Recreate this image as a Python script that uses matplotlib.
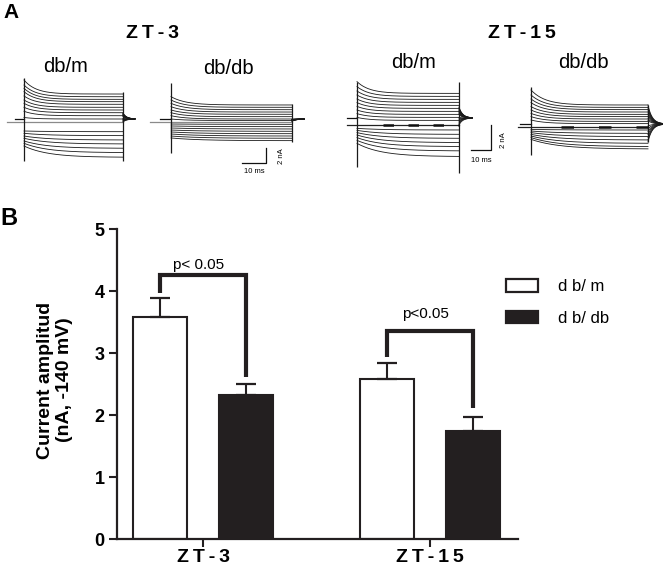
import numpy as np
import matplotlib
matplotlib.use('Agg')
import matplotlib.pyplot as plt
from matplotlib.patches import Patch

plt.rcParams['font.family'] = ['Liberation Sans', 'DejaVu Sans']

W, H = 663, 570
TS = '\u2009'

# ---------------- Panel B data ----------------
groups = ['ZT-3', 'ZT-15']
group_labels = [TS.join('ZT-3'), TS.join('ZT-15')]
legend_labels = ['d b/ m', 'd b/ db']
mean_dbm = [3.58, 2.58]
sem_dbm = [0.31, 0.26]
mean_dbdb = [2.32, 1.74]
sem_dbdb = [0.18, 0.23]
yticks = [0, 1, 2, 3, 4, 5]
p_labels = ['p< 0.05', 'p<0.05']
p_label_y = [4.42, 3.63]
bracket_top = [4.26, 3.35]
bracket_left_bottom = [3.96, 2.93]
bracket_right_bottom = [2.61, 2.11]

# ---------------- Panel A data (nA, relative to zero line) ----------------
pulse_ms = 50
zt3_dbm_I0 = [5.6, 4.93, 4.49, 4.04, 3.47, 2.93, 2.49, 1.96, 1.43, 0.6,
              -1.2, -1.51, -1.87, -2.17, -2.53, -2.84, -3.2]
zt3_dbm_Iss = [3.73, 3.37, 3.02, 2.71, 2.36, 1.96, 1.6, 1.24, 0.84, 0.4,
               -1.29, -1.82, -2.4, -2.93, -3.51, -4.09, -4.71]
zt3_dbdb_I0 = [3.38, 2.93, 2.49, 2.04, 1.6, 1.24, 0.84, 0.4,
               -0.27, -0.53, -0.8, -1.07, -1.33, -1.6, -1.87, -2.13]
zt3_dbdb_Iss = [2.27, 1.96, 1.64, 1.33, 1.03, 0.71, 0.4, 0.2,
                -0.31, -0.62, -0.93, -1.24, -1.56, -1.87, -2.17, -2.49]
zt15_dbm_I0 = [3.47, 3.07, 2.72, 2.4, 2.08, 1.79, 1.49, 1.2, 0.91, 0.61,
               -0.27, -0.43, -0.61, -0.8, -1.01, -1.23, -1.47]
zt15_dbm_Iss = [2.53, 2.29, 2.05, 1.81, 1.57, 1.33, 1.09, 0.85, 0.61, 0.37,
                -0.4, -0.75, -1.07, -1.41, -1.73, -2.08, -2.53]
zt15_dbdb_I0 = [2.96, 2.56, 2.24, 1.95, 1.63, 1.36, 1.09, 0.83, 0.56,
                -0.19, -0.32, -0.45, -0.59, -0.72, -0.85, -0.99]
zt15_dbdb_Iss = [1.76, 1.57, 1.39, 1.2, 1.01, 0.83, 0.64, 0.45, 0.27,
                 -0.24, -0.51, -0.77, -1.04, -1.31, -1.57, -1.76]
holding_nA = [0.4, 0.4, 0.56, 0.24]
on_transient = [(5.87, -5.2), (5.2, -4.13), (3.44, -3.36), (3.2, -2.24)]
off_transient = [(4.0, -5.2), (2.4, -2.67), (3.44, -3.84), (1.76, -1.2)]
tail_range = [(0.0, 1.2), (0.1, 0.4), (0.0, 1.44), (-1.2, 1.76)]
panel_titles = ['db/m', 'db/db', 'db/m', 'db/db']

fig = plt.figure(figsize=(W / 100, H / 100), dpi=100)


def fx(px):
    return px / W


def fy(py):
    return 1 - py / H


def trace_axes(x0, sx, y0, sy, xlim, ylim):
    a, b = xlim
    c, d = ylim
    left = x0 + a * sx
    right = x0 + b * sx
    top = y0 - d * sy
    bottom = y0 - c * sy
    ax = fig.add_axes([left / W, 1 - bottom / H, (right - left) / W, (bottom - top) / H])
    ax.set_xlim(a, b)
    ax.set_ylim(c, d)
    ax.axis('off')
    return ax


# layout of each trace panel: (x0 px, px/ms, y0 px, px/nA, xlim, ylim, ref start, hold start, tail length, ref colour)
layouts = [
    (24, 1.98, 122, 7.5, (-9, 57), (-6, 6.5), -8.6, -4.5, 6.0, '#8a8a8a'),
    (171, 2.42, 122, 7.5, (-9, 62), (-7.5, 6), -8.7, -4.5, 5.0, '#8a8a8a'),
    (357, 2.04, 125, 12.5, (-6, 76), (-4, 4), -4.9, -4.9, 6.4, '#222222'),
    (531, 2.34, 127, 12.5, (-6, 56.4), (-3, 3.5), -5.6, -4.7, 6.4, '#222222'),
]
datasets = [(zt3_dbm_I0, zt3_dbm_Iss), (zt3_dbdb_I0, zt3_dbdb_Iss),
            (zt15_dbm_I0, zt15_dbm_Iss), (zt15_dbdb_I0, zt15_dbdb_Iss)]

t_on = np.linspace(0, pulse_ms, 200)
trace_axes_list = []
for k, (lay, (I0, Iss)) in enumerate(zip(layouts, datasets)):
    x0, sx, y0, sy, xl, yl, ref0, hold0, tail_len, refc = lay
    ax = trace_axes(x0, sx, y0, sy, xl, yl)
    trace_axes_list.append(ax)
    hold = holding_nA[k]
    ax.plot([ref0, pulse_ms], [0, 0], color=refc, lw=0.9, zorder=1)
    ax.plot([hold0, 0], [hold, hold], color='#111111', lw=0.9)
    iss = np.array(Iss)
    lo, hi = tail_range[k]
    t_tail = np.linspace(pulse_ms, pulse_ms + tail_len, 40)
    for a0, ass in zip(I0, Iss):
        tau = 6.0 if ass > 0 else 12.0
        y = ass + (a0 - ass) * np.exp(-t_on / tau)
        ax.plot(t_on, y, color='#1a1a1a', lw=0.6)
        frac = (ass - iss.min()) / (iss.max() - iss.min())
        tail0 = lo + frac * (hi - lo)
        ytail = hold + (tail0 - hold) * np.exp(-(t_tail - pulse_ms) / 1.8)
        ax.plot(t_tail, ytail, color='#1a1a1a', lw=0.6)
    ax.vlines(0, on_transient[k][1], on_transient[k][0], color='#1a1a1a', lw=0.9)
    ax.vlines(pulse_ms, off_transient[k][1], off_transient[k][0], color='#1a1a1a', lw=0.9)
    if k >= 2:
        ax.plot([12.7, pulse_ms], [0, 0], color='#111111', lw=1.8,
                dashes=(4.2, 5.8) if k == 2 else (5, 10))

# scale bars
ax2 = trace_axes_list[1]
ax2.plot([29.3, 39.3, 39.3], [-5.47, -5.47, -3.47], color='#111111', lw=0.9, clip_on=False)
ax2.text(34.3, -6.6, '10 ms', fontsize=5.5, ha='center', va='center')
ax2.text(45.5, -4.5, '2 nA', fontsize=5.5, ha='center', va='center', rotation=90)
ax3 = trace_axes_list[2]
ax3.plot([55.7, 65.7, 65.7], [-2.0, -2.0, 0.0], color='#111111', lw=0.9, clip_on=False)
ax3.text(60.8, -2.8, '10 ms', fontsize=5.5, ha='center', va='center')
ax3.text(72.0, -1.2, '2 nA', fontsize=5.5, ha='center', va='center', rotation=90)

# panel A texts
fig.text(fx(3), fy(13), 'A', fontsize=15, fontweight='bold', ha='left', va='center')
fig.text(fx(152), fy(34), TS.join('ZT-3'), fontsize=14, fontweight='bold', ha='center', va='center')
fig.text(fx(522), fy(33), TS.join('ZT-15'), fontsize=14, fontweight='bold', ha='center', va='center')
for (px, py), title in zip([(66, 66), (228, 69), (414, 62), (583, 62)], panel_titles):
    fig.text(fx(px), fy(py), title, fontsize=14.5, ha='center', va='center')

# ---------------- Panel B ----------------
axB = fig.add_axes([fx(117), fy(539), (518 - 117) / W, (539 - 229) / H])
x = np.arange(len(groups))
off = 0.19
bw = 0.24
dark = '#231f20'
axB.bar(x - off, mean_dbm, bw, color='white', edgecolor=dark, lw=1.5, zorder=2)
axB.bar(x + off, mean_dbdb, bw, color=dark, edgecolor=dark, lw=1.5, zorder=2)
zeros = np.zeros(len(groups))
axB.errorbar(x - off, mean_dbm, yerr=[zeros, sem_dbm], fmt='none', ecolor=dark,
             elinewidth=1.5, capsize=7.5, capthick=1.6, zorder=3)
axB.errorbar(x + off, mean_dbdb, yerr=[zeros, sem_dbdb], fmt='none', ecolor=dark,
             elinewidth=1.5, capsize=7.5, capthick=1.6, zorder=3)
for i in range(len(groups)):
    xl_, xr_ = x[i] - off, x[i] + off
    axB.plot([xl_, xl_, xr_, xr_],
             [bracket_left_bottom[i], bracket_top[i], bracket_top[i], bracket_right_bottom[i]],
             color=dark, lw=3, solid_joinstyle='miter', solid_capstyle='butt', zorder=4)
    axB.text(x[i] - 0.02, p_label_y[i], p_labels[i], fontsize=11, ha='center', va='center')

axB.set_xlim(-0.379, 1.388)
axB.set_ylim(0, 5)
axB.set_yticks(yticks)
axB.set_yticklabels([str(v) for v in yticks], fontsize=13, fontweight='bold')
axB.set_xticks(x)
axB.set_xticklabels(group_labels, fontsize=14, fontweight='bold')
axB.tick_params(axis='both', length=6, width=1.5, color=dark, direction='out')
axB.tick_params(axis='y', pad=3)
axB.tick_params(axis='x', pad=1.5)
for s in ['top', 'right']:
    axB.spines[s].set_visible(False)
for s in ['left', 'bottom']:
    axB.spines[s].set_linewidth(1.6)
    axB.spines[s].set_color(dark)

handles = [Patch(facecolor='white', edgecolor=dark, lw=1.6),
           Patch(facecolor=dark, edgecolor=dark, lw=1.6)]
axB.legend(handles, legend_labels, loc='upper left', bbox_to_anchor=(0.97, 0.8387),
           frameon=False, fontsize=12, handlelength=1.92, handleheight=0.78,
           handletextpad=1.2, labelspacing=1.0, borderpad=0, borderaxespad=0)

fig.text(fx(55), fy(380), 'Current amplitud\n(nA, -140 mV)', fontsize=14, fontweight='bold',
         rotation=90, ha='center', va='center', multialignment='center', linespacing=1.2)
fig.text(fx(0), fy(218), 'B', fontsize=17, fontweight='bold', ha='left', va='center')

fig.savefig('out.png', dpi=100)
